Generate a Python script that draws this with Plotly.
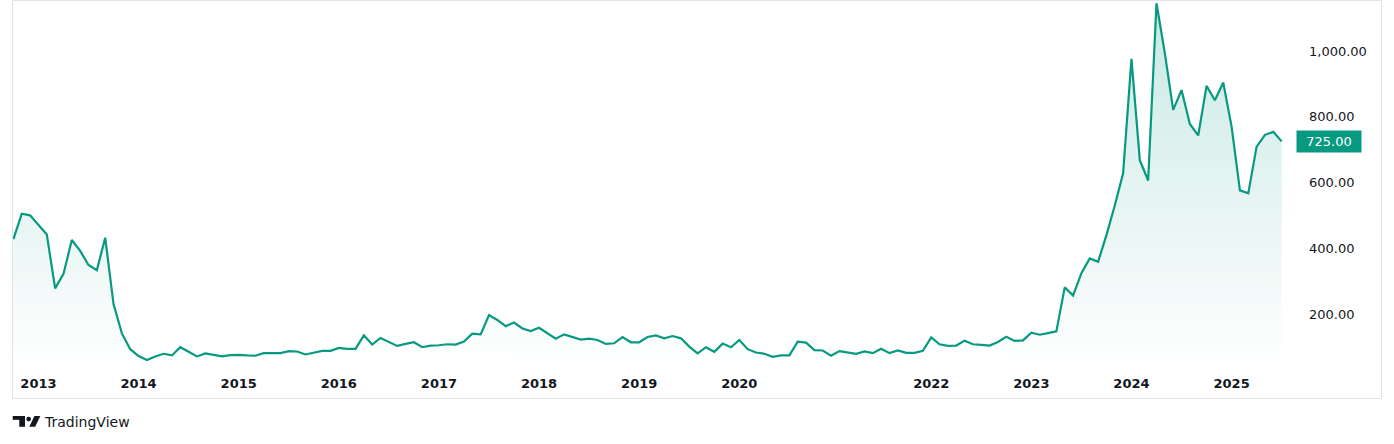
import pandas as pd
import plotly.graph_objects as go

# ---- data (monthly closes, Oct 2012 .. Jul 2025; Jan 2021 bar absent) ----
months = [d.strftime("%Y-%m") for d in pd.date_range("2012-10-01", "2025-07-01", freq="MS")
          if d.strftime("%Y-%m") != "2021-01"]

values = [
    428, 505, 500, 471, 442, 278, 322, 425, 392, 349, 333, 432, 230, 141, 93,
    72, 60, 71, 79, 74, 99, 85, 71, 80, 75, 71, 75, 76, 74, 73,
    81, 80, 81, 87, 86, 77, 83, 88, 88, 97, 94, 94, 135, 107, 127,
    114, 103, 109, 114, 99, 104, 105, 108, 107, 116, 140, 138, 197, 182, 163,
    174, 156, 148, 158, 141, 125, 138, 131, 122, 125, 121, 109, 111, 130, 114,
    114, 130, 135, 126, 133, 126, 101, 80, 99, 85, 110, 99, 121, 93, 83,
    79, 70, 74, 74, 116, 113, 90, 89, 73, 87, 83, 79, 86, 81, 94,
    81, 89, 82, 82, 88, 129, 108, 103, 104, 119, 108, 106, 104, 115, 131,
    118, 120, 143, 137, 142, 147, 281, 256, 324, 369, 359, 440, 530, 628, 976,
    668, 606, 1145, 993, 821, 881, 778, 743, 894, 850, 904, 770, 576, 567, 709,
    745, 754, 725,
]

year_ticks = ["2013", "2014", "2015", "2016", "2017", "2018", "2019", "2020",
              "2022", "2023", "2024", "2025"]
price_ticks = [200, 400, 600, 800, 1000]

# ---- layout geometry (pixels) ----
W, H = 1394, 444
L, R, T, B = 13, 99, 1, 74
PW, PH = W - L - R, H - T - B

GREEN = "#089981"
TEXT = "#131722"
FONT = "DejaVu Sans, Verdana, sans-serif"


def px_x(p):
    return (p - L) / PW


def px_y(p):
    return (H - B - p) / PH


fig = go.Figure()
fig.add_trace(go.Scatter(
    x=months, y=values, mode="lines",
    line=dict(color=GREEN, width=2.2),
    fill="tozeroy",
    fillgradient=dict(type="vertical", start=30, stop=1150,
                      colorscale=[[0, "rgba(8,153,129,0.0)"],
                                  [1, "rgba(8,153,129,0.22)"]]),
    hoverinfo="skip", showlegend=False,
))

shapes = [
    # widget frame
    dict(type="rect", xref="paper", yref="paper",
         x0=px_x(12.5), x1=px_x(1381.5), y0=px_y(398.5), y1=px_y(0.5),
         line=dict(color="#e0e3eb", width=1), fillcolor="rgba(0,0,0,0)", layer="above"),
    # TradingView logo: T bar, T stem, dot, slash
    dict(type="rect", xref="paper", yref="paper",
         x0=px_x(12.7), x1=px_x(25), y0=px_y(419.8), y1=px_y(416),
         line=dict(width=0), fillcolor=TEXT),
    dict(type="rect", xref="paper", yref="paper",
         x0=px_x(19.3), x1=px_x(25), y0=px_y(426.8), y1=px_y(416),
         line=dict(width=0), fillcolor=TEXT),
    dict(type="circle", xref="paper", yref="paper",
         x0=px_x(26.3), x1=px_x(31.0), y0=px_y(421.4), y1=px_y(416.7),
         line=dict(width=0), fillcolor=TEXT),
    dict(type="path", xref="paper", yref="paper",
         path=(f"M {px_x(29.3)} {px_y(426.8)} L {px_x(35.2)} {px_y(426.8)} "
               f"L {px_x(40.3)} {px_y(416)} L {px_x(34.4)} {px_y(416)} Z"),
         line=dict(width=0), fillcolor=TEXT),
]

annotations = [
    dict(xref="paper", yref="y", x=px_x(1296), y=values[-1],
         xanchor="left", yanchor="middle", showarrow=False,
         text=f"{values[-1]:,.2f}", bgcolor=GREEN, borderpad=1,
         width=62, height=19, align="center",
         font=dict(family=FONT, size=13, color="white")),
    dict(xref="paper", yref="paper", x=px_x(42), y=px_y(421.5),
         xanchor="left", yanchor="middle", showarrow=False,
         text="TradingView", font=dict(family=FONT, size=14, color=TEXT)),
]

fig.update_layout(
    width=W, height=H,
    margin=dict(l=L, r=R, t=T, b=B, pad=0),
    paper_bgcolor="white", plot_bgcolor="white",
    font=dict(family=FONT, color=TEXT),
    hovermode=False,
    shapes=shapes, annotations=annotations,
    xaxis=dict(type="category", range=[-0.05, len(months) - 1 + 1.6],
               tickmode="array", tickvals=[f"{y}-01" for y in year_ticks],
               ticktext=year_ticks, showgrid=False, zeroline=False,
               showline=False, ticks="", ticklabelstandoff=4,
               tickfont=dict(family=FONT, size=13, color=TEXT, weight="bold")),
    yaxis=dict(side="right", range=[29.7, 1152], tickmode="array",
               tickvals=price_ticks, tickformat=",.2f",
               showgrid=False, zeroline=False, showline=False, ticks="",
               ticklabelstandoff=13,
               tickfont=dict(family=FONT, size=13, color=TEXT)),
)

fig.write_html("out.html", config={"displayModeBar": False, "staticPlot": True},
               post_script="document.body.style.margin='0';document.body.style.overflow='hidden';")
